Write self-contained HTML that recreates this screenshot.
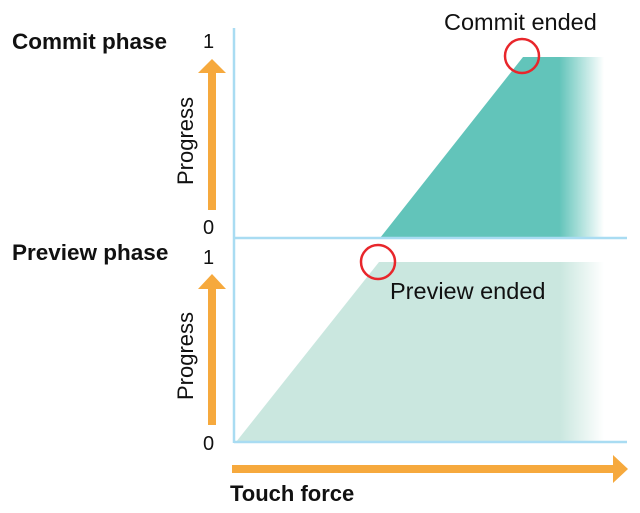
<!DOCTYPE html>
<html><head><style>
body{margin:0;background:#fff;}
svg{display:block;}
text{font-family:"Liberation Sans","DejaVu Sans",sans-serif;fill:#111;}
</style></head><body>
<svg width="640" height="513" viewBox="0 0 640 513" xmlns="http://www.w3.org/2000/svg">
<defs>
<linearGradient id="g1" x1="0" y1="0" x2="1" y2="0" gradientUnits="objectBoundingBox">
<stop offset="0" stop-color="#62c4ba"/><stop offset="0.8" stop-color="#62c4ba"/><stop offset="1" stop-color="#62c4ba" stop-opacity="0"/>
</linearGradient>
<linearGradient id="g2" x1="0" y1="0" x2="1" y2="0">
<stop offset="0" stop-color="#cae7df"/><stop offset="0.88" stop-color="#cae7df"/><stop offset="1" stop-color="#cae7df" stop-opacity="0"/>
</linearGradient>
</defs>
<polygon points="380,238 523,57 604,57 604,238" fill="url(#g1)"/>
<polygon points="236,442 379,262 604,262 604,442" fill="url(#g2)"/>
<line x1="234" y1="28" x2="234" y2="443" stroke="#a9dcf2" stroke-width="2.5"/>
<line x1="234" y1="238" x2="627" y2="238" stroke="#a9dcf2" stroke-width="2.5"/>
<line x1="234" y1="442" x2="627" y2="442" stroke="#a9dcf2" stroke-width="2.5"/>
<circle cx="522" cy="56" r="17" fill="none" stroke="#e8262b" stroke-width="2.5"/>
<circle cx="378" cy="262" r="17" fill="none" stroke="#e8262b" stroke-width="2.5"/>
<g fill="#f6a93d">
<rect x="208" y="72" width="8" height="138"/><polygon points="198,73 226,73 212,59"/>
<rect x="208" y="288" width="8" height="137"/><polygon points="198,289 226,289 212,274"/>
<rect x="232" y="465" width="384" height="8"/><polygon points="613,455 613,483 628,469"/>
</g>
<text x="12" y="49" font-size="22.5" font-weight="bold">Commit phase</text>
<text x="12" y="260" font-size="22.5" font-weight="bold">Preview phase</text>
<text x="230" y="501" font-size="22" font-weight="bold">Touch force</text>
<text x="444" y="30" font-size="23.5">Commit ended</text>
<text x="390" y="299" font-size="23.5">Preview ended</text>
<text x="203" y="48" font-size="20">1</text>
<text x="203" y="234" font-size="20">0</text>
<text x="203" y="264" font-size="20">1</text>
<text x="203" y="450" font-size="20">0</text>
<text transform="translate(193,141) rotate(-90)" text-anchor="middle" font-size="22">Progress</text>
<text transform="translate(193,356) rotate(-90)" text-anchor="middle" font-size="22">Progress</text>
</svg>
</body></html>
